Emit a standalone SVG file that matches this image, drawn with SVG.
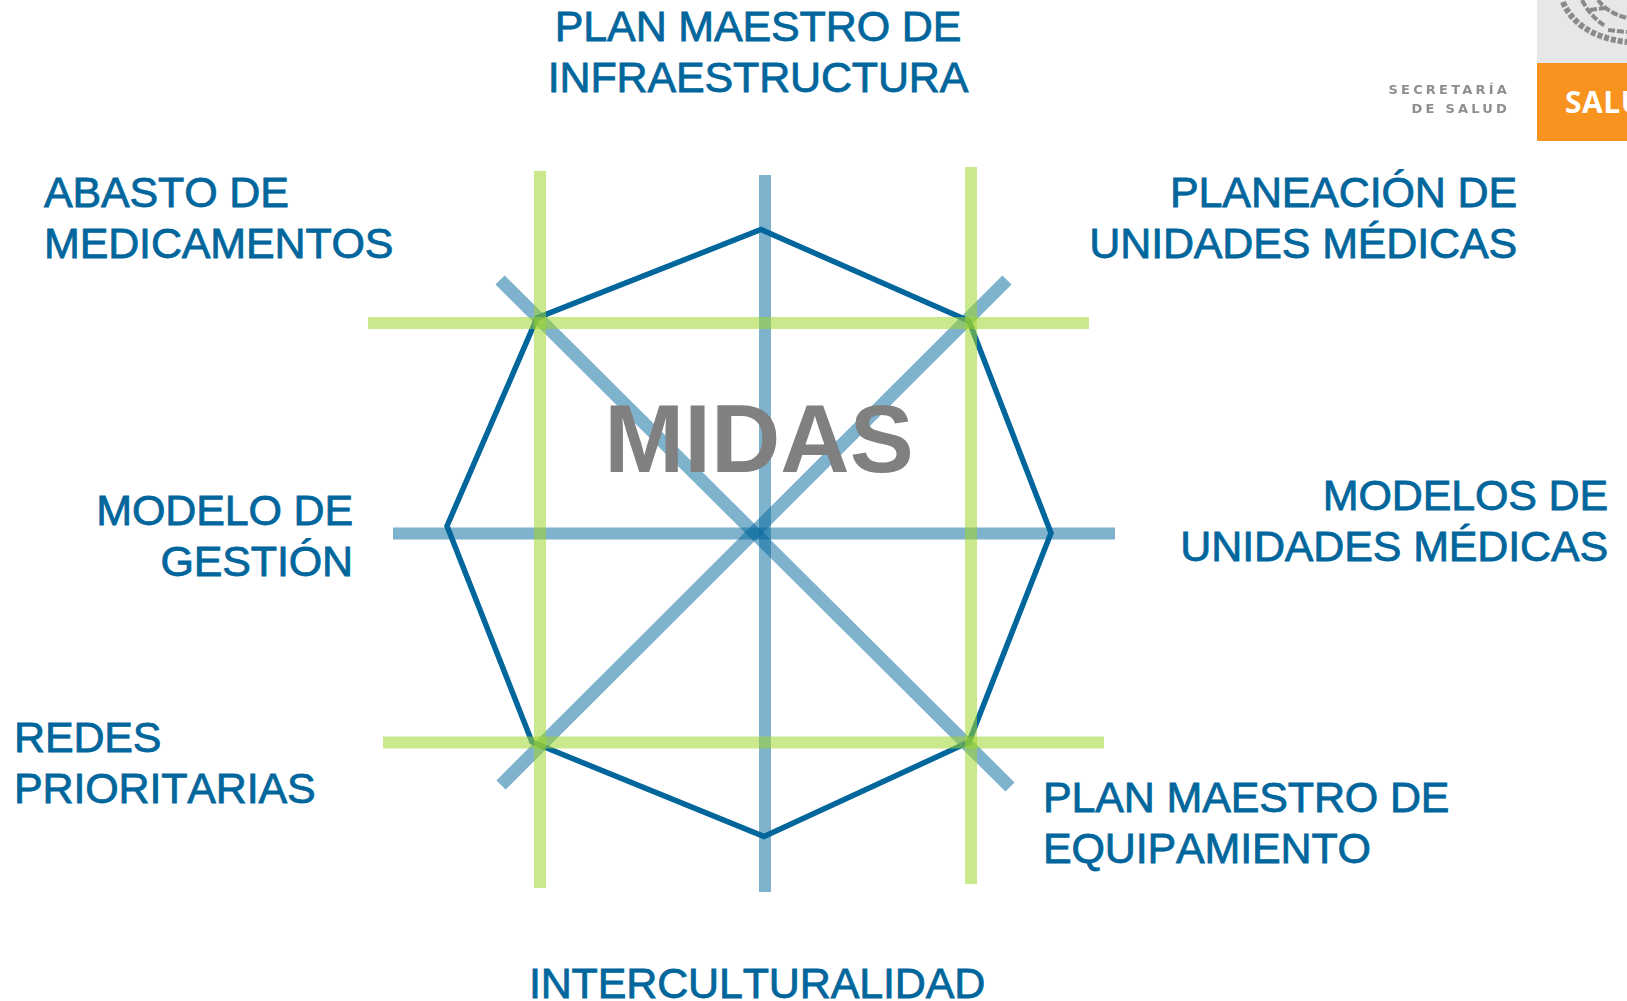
<svg xmlns="http://www.w3.org/2000/svg" width="1627" height="1001" viewBox="0 0 1627 1001">
<style>
.l{font-family:"Liberation Sans",Arial,sans-serif;font-size:43px;fill:#00669c;stroke:#00669c;stroke-width:.8px;letter-spacing:-.15px;font-kerning:none}
.e{text-anchor:end}.m{text-anchor:middle}
.b{stroke:#00669c;stroke-opacity:.5;stroke-width:12;fill:none}
.d{stroke-width:13}
.g{stroke:#9fd62e;stroke-opacity:.55;stroke-width:12;fill:none}
.s{font-family:"DejaVu Sans",Verdana,sans-serif;font-size:13px;font-weight:700;fill:#8f8f8f;letter-spacing:3.2px;text-anchor:end}
</style>
<defs><filter id="soft" x="-10%" y="-10%" width="120%" height="120%"><feGaussianBlur stdDeviation=".6"/></filter></defs>
<g id="connectors">
<polygon points="761,229.500 969,321 1051,533 969,742 764,836.500 532,742 447,526 537,318" fill="none" stroke="#00669c" stroke-width="5.5"/>
<path class="b" d="M765 175V892"/><path class="b" d="M393 533.500H1115"/><path class="b d" d="M500 280L1010 787"/><path class="b d" d="M1007 280L501 785"/>
<path class="g" d="M540 171V888"/><path class="g" d="M971 167V884"/><path class="g" d="M368 323H1089"/><path class="g" d="M383 742.500H1104"/>
</g>
<g id="midas"><text x="759" y="472" text-anchor="middle" font-family="Liberation Sans,Arial,sans-serif" font-weight="700" font-size="96" fill="#808080">MIDAS</text></g>
<g id="n-top"><text class="l m" x="758" y="41">PLAN MAESTRO DE</text><text class="l m" x="758" y="92">INFRAESTRUCTURA</text></g>
<g id="n-abasto"><text class="l" x="44" y="207">ABASTO DE</text><text class="l" x="44" y="258">MEDICAMENTOS</text></g>
<g id="n-planeacion"><text class="l e" x="1517" y="207">PLANEACIÓN DE</text><text class="l e" x="1517" y="258">UNIDADES MÉDICAS</text></g>
<g id="n-gestion"><text class="l e" x="353" y="525">MODELO DE</text><text class="l e" x="353" y="576">GESTIÓN</text></g>
<g id="n-modelos"><text class="l e" x="1608" y="510">MODELOS DE</text><text class="l e" x="1608" y="561">UNIDADES MÉDICAS</text></g>
<g id="n-redes"><text class="l" x="14" y="752">REDES</text><text class="l" x="14" y="803">PRIORITARIAS</text></g>
<g id="n-equip"><text class="l" x="1043" y="812">PLAN MAESTRO DE</text><text class="l" x="1043" y="863">EQUIPAMIENTO</text></g>
<g id="n-inter"><text class="l m" x="757" y="998">INTERCULTURALIDAD</text></g>
<g id="logo">
<rect x="1537" y="0" width="90" height="63" fill="#e6e7e8"/>
<rect x="1537" y="63" width="90" height="78" fill="#f7931e"/>
<g filter="url(#soft)" fill="none" stroke="#8a8a8a">
<path d="M1563 2C1570 20 1590 38 1627 42" stroke-width="6" stroke-dasharray="5 2"/>
<path d="M1582 0C1588 12 1596 20 1605 26M1598 0C1604 8 1612 14 1627 18M1590 10L1605 8M1608 30L1627 32" stroke-width="4" stroke-dasharray="7 2"/>
</g>
<text x="1565" y="113" font-family="Open Sans,Liberation Sans,Arial,sans-serif" font-weight="700" font-size="30" letter-spacing=".5" fill="#fff">SALU</text>
<g filter="url(#soft)"><text class="s" x="1510" y="94">SECRETARÍA</text>
<text class="s" x="1510" y="113">DE SALUD</text></g>
</g>
</svg>
